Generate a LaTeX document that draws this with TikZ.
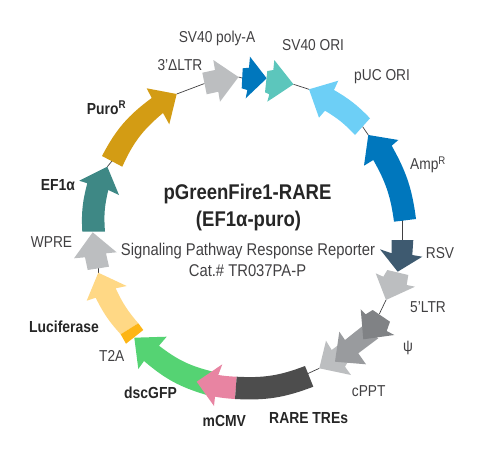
\documentclass[tikz,border=0pt]{standalone}
\usepackage{fontspec}
\setmainfont[FakeStretch=0.87]{Liberation Sans}
\definecolor{puroC}{HTML}{D39C14}
\definecolor{efC}{HTML}{3E8885}
\definecolor{greyC}{HTML}{BCBEC0}
\definecolor{lucC}{HTML}{FFD885}
\definecolor{tC}{HTML}{FDB515}
\definecolor{gfpC}{HTML}{55D373}
\definecolor{cmvC}{HTML}{E884A2}
\definecolor{rareC}{HTML}{4D4D4D}
\definecolor{psiC}{HTML}{808285}
\definecolor{midC}{HTML}{999B9E}
\definecolor{rsvC}{HTML}{3E5A70}
\definecolor{ampC}{HTML}{0077BD}
\definecolor{pucC}{HTML}{6DCFF6}
\definecolor{oriC}{HTML}{5CC6BC}
\definecolor{txtC}{HTML}{414042}
\tikzstyle{part} = [draw=none]
\tikzstyle{backbone} = [draw=txtC, line width=0.7pt]
\tikzstyle{lab} = [inner sep=0pt, anchor=west, text=txtC, font=\fontsize{15.8}{19}\selectfont]
\tikzstyle{boldlab} = [lab, text=black!85, font=\fontsize{16}{19}\selectfont\bfseries]
\tikzstyle{title} = [inner sep=0pt, text=black!85, font=\fontsize{21.3}{27}\selectfont\bfseries]

\begin{document}
\begin{tikzpicture}[x=1pt, y=-1pt]
\useasboundingbox (0,0) rectangle (499,451);

% ends of the features that the backbone joins
\coordinate (ltrTip) at (238.5,77);
\coordinate (polyTail) at (242,78);
\coordinate (ltrTail) at (204.5,83.5);
\coordinate (puroTip) at (176.7,94);
\coordinate (puroTail) at (112,161);
\coordinate (efTip) at (107.3,166.7);
\coordinate (oriTip) at (293.5,84.3);
\coordinate (pucTip) at (309,89.3);
\coordinate (pucTail) at (362.5,126.5);
\coordinate (ampTip) at (368.3,135);
\coordinate (ampTail) at (402,220);
\coordinate (rsvTail) at (402,240);
\coordinate (ltrfTip) at (386,300);
\coordinate (psiTail) at (379.3,314);
\coordinate (cpptTip) at (319.3,368.3);
\coordinate (rareTail) at (308,373.5);
\coordinate (wpreTail) at (98.3,268);
\coordinate (lucTip) at (98.3,272.7);

\draw [backbone] (ltrTail) -- (puroTip);
\draw [backbone] (ltrTip) -- (polyTail);
\draw [backbone] (puroTail) -- (efTip);
\draw [backbone] (oriTip) -- (pucTip);
\draw [backbone] (pucTail) -- (ampTip);
\draw [backbone] (ampTail) -- (rsvTail);
\draw [backbone] (ltrfTip) -- (psiTail);
\draw [backbone] (cpptTip) -- (rareTail);
\draw [backbone] (wpreTail) -- (lucTip);

% clockwise side
\fill [part, puroC] (102,156) to[bend left=13] (151.7,98) -- (146.7,88.3) -- (puroTip) -- (169.3,124.3) -- (163,113) to[bend right=13] (122.3,166.7) -- cycle;
\fill [part, efC] (82.3,231.7) to[bend left=9] (87.3,183.3) -- (79.3,180.7) -- (efTip) -- (119,195) -- (108.3,190) to[bend right=9] (105,231.7) -- cycle;
\fill [part, greyC] (87.7,270) -- (85,257.3) -- (74,258.3) -- (92.7,232.3) -- (116.7,252.3) -- (106,253.3) -- (109,266.7) -- cycle;
\fill [part, lucC] (120.7,334.3) to[bend left=8] (95.7,297.7) -- (86.7,300.7) -- (lucTip) -- (126.7,286) -- (115.7,288.3) to[bend right=8] (138.3,323.3) -- cycle;
\fill [part, tC] (120.7,334.3) -- (138.3,323.3) -- (143.3,330) -- (126,343.7) -- cycle;
\fill [part, gfpC] (206.7,395) to[bend left=12] (144,361) -- (138.3,369) -- (134.3,337.7) -- (166.7,336.7) -- (159,345.7) to[bend right=12] (213.3,371.7) -- cycle;
\fill [part, cmvC] (235,399) to[bend left=3] (215,396.7) -- (214,406) -- (196.7,381.7) -- (222.3,364.3) -- (218.3,375) to[bend right=3] (236.7,376.7) -- cycle;
\fill [part, rareC] (236.7,376.7) to[bend right=12] (305,366) -- (313.3,386.7) to[bend left=12] (235,399) -- cycle;

% counter side
\fill [part, greyC] (206.7,94.3) -- (218.3,91.7) -- (220,101.7) -- (ltrTip) -- (213.3,60) -- (215,70) -- (202.3,72.7) -- cycle;
\fill [part, ampC] (250,56.7) -- (266.7,78.3) -- (245.7,98.3) -- (247.3,90) -- (241.7,88.3) -- (242.7,68.3) -- (249,67.7) -- cycle;
\fill [part, oriC] (274.3,60) -- (oriTip) -- (267.3,101.7) -- (269.3,94.3) -- (265,92.3) -- (267.3,71) -- (273.3,70) -- cycle;
\fill [part, pucC] (370,118.3) to[bend right=8] (334,90) -- (338.3,80.7) -- (pucTip) -- (319,117.7) -- (325,110.7) to[bend left=8] (355,135) -- cycle;
\fill [part, ampC] (394,221.7) to[bend right=11] (373.3,160) -- (364,165.7) -- (ampTip) -- (398.3,140) -- (391.7,145.7) to[bend left=11] (416,219) -- cycle;
\fill [part, rsvC] (391.7,240) -- (413.3,240) -- (412.3,255) -- (422.3,256.7) -- (397.7,271.7) -- (380,249.3) -- (391.7,253.3) -- cycle;
\fill [part, greyC] (387.3,270) -- (408.3,275) -- (406.7,285) -- (415,286.7) -- (ltrfTip) -- (375.7,273.3) -- (383.3,276.7) -- cycle;
\fill [part, greyC] (cpptTip) -- (326,340.7) -- (331.7,350) -- (345,340) -- (352,355) -- (345,366.7) -- (351,375) -- cycle;
\fill [part, midC] (335,361.7) -- (339.3,331.7) -- (345,340) -- (361.7,326.7) -- (378.3,338.3) -- (358.3,353.3) -- (366,364.3) -- cycle;
\fill [part, psiC] (363.3,339.3) -- (360.7,309.3) -- (365.7,314.3) -- (372.7,310) -- (390,321.7) -- (386.7,331) -- (394.3,335) -- cycle;

\node [lab, anchor=center] (polyLab) at (217,38) {SV40 poly-A};
\node [lab] (oriLab) at (282,45) {SV40 ORI};
\node [lab] (pucLab) at (354,77) {pUC ORI};
\node [lab] (ampLab) at (410,165) {Amp\textsuperscript{R}};
\node [lab] (rsvLab) at (425.7,253) {RSV};
\node [lab] (ltrfLab) at (410,307) {5’LTR};
\node [lab] (psiLab) at (403,348) {ψ};
\node [lab] (cpptLab) at (351.7,391) {cPPT};
\node [boldlab] (rareLab) at (269,418) {RARE TREs};
\node [boldlab] (cmvLab) at (202.5,421) {mCMV};
\node [boldlab] (gfpLab) at (124,392.7) {dscGFP};
\node [lab] (tLab) at (99,355.7) {T2A};
\node [boldlab, anchor=center] (lucLab) at (64,326.7) {Luciferase};
\node [lab] (wpreLab) at (30.7,241.7) {WPRE};
\node [boldlab] (efLab) at (40.7,185) {EF1α};
\node [boldlab] (puroLab) at (86.7,108) {Puro\textsuperscript{R}};
\node [lab] (ltrLab) at (157.3,65) {3’ΔLTR};

\node [title] (name) at (247.5,194) {pGreenFire1-RARE};
\node [title] (insert) at (248.5,221) {(EF1α-puro)};
\node [lab, anchor=center, font=\fontsize{17}{19}\selectfont] (desc) at (248,251) {Signaling Pathway Response Reporter};
\node [lab, anchor=center, font=\fontsize{17}{19}\selectfont] (cat) at (247.5,271) {Cat.\# TR037PA-P};

\end{tikzpicture}
\end{document}
